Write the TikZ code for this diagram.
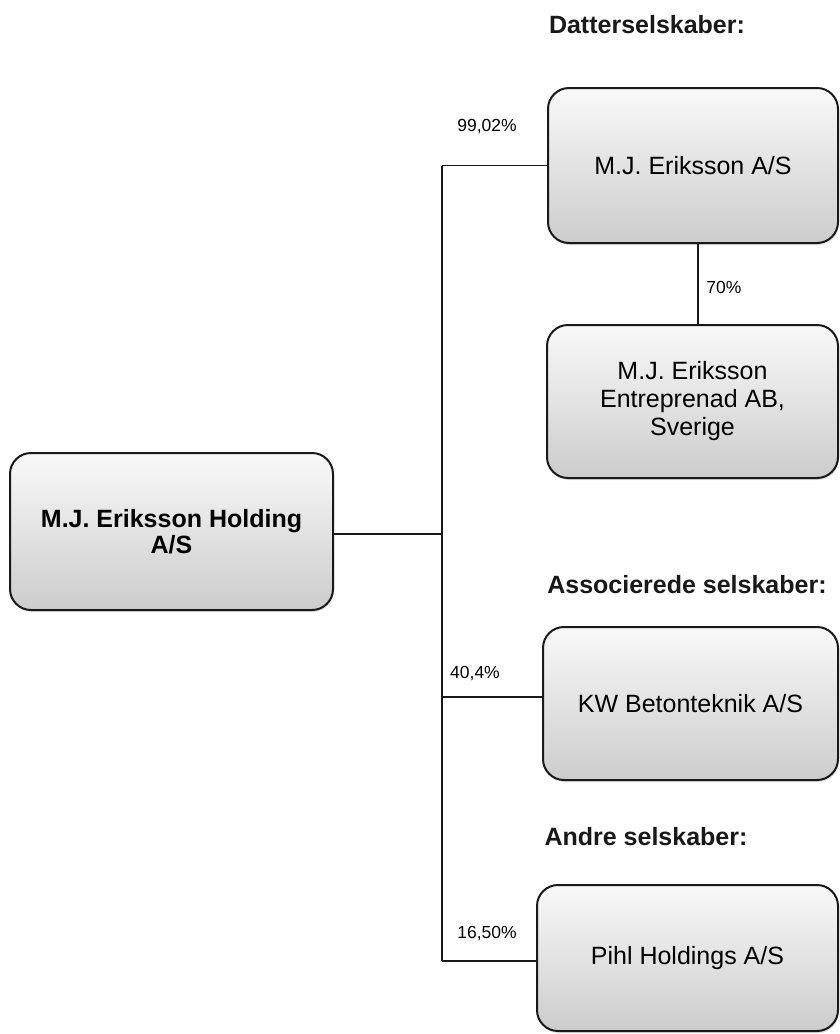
\documentclass[tikz,border=0pt]{standalone}
\usepackage{fontspec}
\setmainfont{Liberation Sans}
\usetikzlibrary{shadows}
\begin{document}
\begin{tikzpicture}[x=1pt,y=-1pt,
  box/.style={draw=black!90, line width=2pt, rounded corners=21pt,
    top color=gray!5, bottom color=gray!40,
    drop shadow={shadow xshift=1pt, shadow yshift=-2pt, opacity=0.25},
    align=center, inner sep=0pt, font=\fontsize{25}{28}\selectfont},
  heading/.style={font=\fontsize{25}{28}\selectfont\bfseries, inner sep=0pt, text=black!90},
  pct/.style={font=\fontsize{17.5}{20}\selectfont, inner sep=0pt},
  conn/.style={draw=black!90, line width=1.5pt}]
\useasboundingbox (0,0) rectangle (840,1034);
\fill[white] (0,0) rectangle (840,1034);

% headings
\node[heading] (h1) at (647,25) {Datterselskaber:};
\node[heading] (h2) at (687,585) {Associerede selskaber:};
\node[heading] (h3) at (646,837) {Andre selskaber:};

% boxes
\node[box, minimum width=290pt, minimum height=155pt] (b1) at (693,165.5) {M.J. Eriksson A/S};
\node[box, minimum width=291pt, minimum height=153pt] (b2) at (692.5,401.5) {M.J. Eriksson\\Entreprenad AB,\\Sverige};
\node[box, minimum width=323pt, minimum height=157pt, font=\fontsize{25}{26}\selectfont\bfseries] (hold) at (171.5,531.5) {M.J. Eriksson Holding\\A/S};
\node[box, minimum width=295pt, minimum height=153pt] (kw) at (690.5,703.5) {KW Betonteknik A/S};
\node[box, minimum width=301pt, minimum height=146pt] (pihl) at (687.5,958) {Pihl Holdings A/S};

% connector end points on the boxes
\coordinate (holdE) at ([yshift=-2.5pt]hold.east);
\coordinate (kwW) at ([yshift=6.5pt]kw.west);
\coordinate (pihlW) at ([yshift=-3pt]pihl.west);
\coordinate (b1S) at ([xshift=5pt]b1.south);
\coordinate (sp) at (442,0);

% spine
\draw[conn] (sp |- b1.west) -- (sp |- pihlW);
\draw[conn] (holdE) -- (sp |- holdE);
\draw[conn] (sp |- b1.west) -- (b1.west);
\draw[conn] (sp |- kwW) -- (kwW);
\draw[conn] (sp |- pihlW) -- (pihlW);
\draw[conn] (b1S) -- (b1S |- b2.north);

% percentages
\node[pct] (p1) at (487,127) {99,02\%};
\node[pct] (p2) at (724,287) {70\%};
\node[pct] (p3) at (475,673) {40,4\%};
\node[pct] (p4) at (487,933) {16,50\%};
\end{tikzpicture}
\end{document}
